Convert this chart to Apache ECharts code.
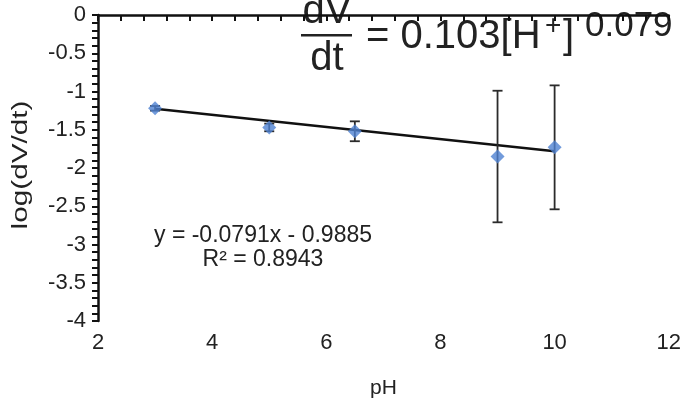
<!DOCTYPE html>
<html>
<head>
<meta charset="utf-8">
<script src="https://cdn.jsdelivr.net/npm/echarts@6/dist/echarts.min.js"></script>
<style>
  html, body { margin: 0; padding: 0; background: #fff; }
  #chart { width: 684px; height: 404px; }
</style>
</head>
<body>
<div id="chart"></div>
<script>
  // values
  const phValues = [3, 5, 6.5, 9, 10];
  const logRate = [-1.22, -1.47, -1.52, -1.85, -1.73];
  const errSize = [0.03, 0.05, 0.13, 0.86, 0.81];
  // linear trendline ends (y = -0.0791x - 0.9885)
  const trendX = [3, 10];
  const trendY = [-1.226, -1.780];
  const xMin = 2, xMax = 12, xStep = 2;
  const yMin = -4, yMax = 0, yStep = 0.5;

  const chart = echarts.init(document.getElementById('chart'));

  const points = phValues.map((x, i) => [x, logRate[i]]);
  const bars = phValues.map((x, i) => [x, logRate[i] - errSize[i], logRate[i] + errSize[i]]);
  const trend = trendX.map((x, i) => [x, trendY[i]]);

  const font = 'Arial, "Liberation Sans", sans-serif';

  const option = {
    backgroundColor: '#fff',
    animation: false,
    textStyle: { fontFamily: font, color: '#222' },
    grid: { left: 98, right: 15, top: 15, bottom: 82 },
    xAxis: {
      type: 'value', min: xMin, max: xMax, interval: xStep,
      name: 'pH', nameLocation: 'middle', nameGap: 57,
      nameTextStyle: { fontSize: 21, color: '#222' },
      axisLine: { lineStyle: { color: '#111', width: 2.5 } },
      axisTick: { show: true, length: 6, lineStyle: { color: '#111', width: 2 } },
      minorTick: { show: true, splitNumber: 5, length: 6, lineStyle: { color: '#111', width: 2 } },
      axisLabel: { fontSize: 22, color: '#222', margin: 11 },
      splitLine: { show: false }
    },
    yAxis: {
      type: 'value', min: yMin, max: yMax, interval: yStep,
      axisLine: { show: true, lineStyle: { color: '#111', width: 2.5 } },
      axisTick: { show: true, length: 6, lineStyle: { color: '#111', width: 2 } },
      minorTick: { show: true, splitNumber: 5, length: 6, lineStyle: { color: '#111', width: 2 } },
      axisLabel: { fontSize: 22, color: '#222', margin: 12 },
      splitLine: { show: false }
    },
    series: [
      {
        type: 'line',
        data: trend,
        symbol: 'none',
        lineStyle: { color: '#111', width: 2.5 },
        z: 2
      },
      {
        type: 'custom',
        data: bars,
        renderItem: function (params, api) {
          const x = api.value(0);
          const lo = api.coord([x, api.value(1)]);
          const hi = api.coord([x, api.value(2)]);
          const cap = 5;
          const st = { stroke: '#2b2b2b', lineWidth: 1.8 };
          return {
            type: 'group',
            children: [
              { type: 'line', shape: { x1: lo[0], y1: lo[1], x2: hi[0], y2: hi[1] }, style: st },
              { type: 'line', shape: { x1: lo[0] - cap, y1: lo[1], x2: lo[0] + cap, y2: lo[1] }, style: st },
              { type: 'line', shape: { x1: hi[0] - cap, y1: hi[1], x2: hi[0] + cap, y2: hi[1] }, style: st }
            ]
          };
        },
        z: 3
      },
      {
        type: 'scatter',
        data: points,
        symbol: 'diamond',
        symbolSize: 14,
        itemStyle: { color: '#4f82d2' },
        z: 4
      }
    ],
    graphic: [
      // y axis title, stretched along its length like the original
      { type: 'text', x: 21, y: 165, rotation: Math.PI / 2, scaleX: 1.35,
        style: { text: 'log(dV/dt)', font: '22px ' + font, fill: '#222', align: 'center', verticalAlign: 'middle' } },
      // trendline label, centred lines
      { type: 'text', x: 263, y: 236, style: { text: 'y = -0.0791x - 0.9885', font: '23px ' + font, fill: '#222', align: 'center', verticalAlign: 'middle' } },
      { type: 'text', x: 263, y: 260, style: { text: 'R² = 0.8943', font: '23px ' + font, fill: '#222', align: 'center', verticalAlign: 'middle' } },
      // dV/dt = 0.103[H+]^0.079
      { type: 'text', x: 327, y: 12, style: { text: 'dV', font: '40px ' + font, fill: '#222', align: 'center', verticalAlign: 'middle' } },
      { type: 'rect', shape: { x: 301, y: 34, width: 51, height: 2.5 }, style: { fill: '#222' } },
      { type: 'text', x: 327, y: 59, style: { text: 'dt', font: '40px ' + font, fill: '#222', align: 'center', verticalAlign: 'middle' } },
      { type: 'text', x: 366, y: 37, style: { text: '= 0.103[H', font: '40px ' + font, fill: '#222', verticalAlign: 'middle' } },
      { type: 'text', x: 545, y: 26, style: { text: '+', font: '28px ' + font, fill: '#222', verticalAlign: 'middle' } },
      { type: 'text', x: 563, y: 37, style: { text: ']', font: '40px ' + font, fill: '#222', verticalAlign: 'middle' } },
      { type: 'text', x: 585, y: 26, style: { text: '0.079', font: '35px ' + font, fill: '#222', verticalAlign: 'middle' } }
    ]
  };

  chart.setOption(option);
</script>
</body>
</html>
